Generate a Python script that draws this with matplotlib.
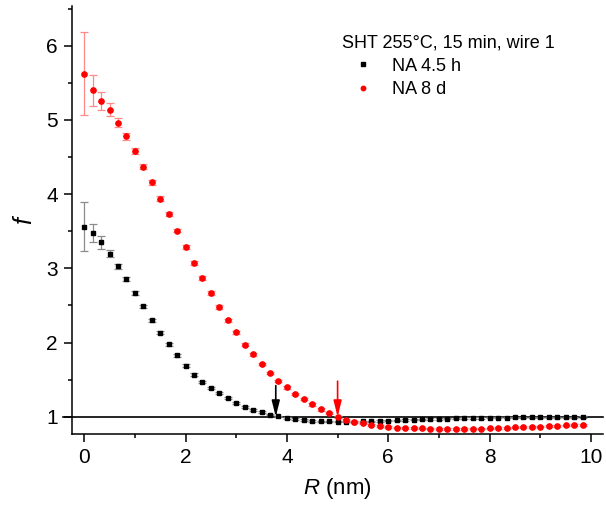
import matplotlib
matplotlib.use("Agg")
import matplotlib.pyplot as plt
from matplotlib.lines import Line2D
from matplotlib.ticker import MultipleLocator

plt.rcParams['font.family'] = ['Liberation Sans', 'DejaVu Sans']
plt.rcParams['mathtext.fontset'] = 'custom'
plt.rcParams['mathtext.rm'] = 'Liberation Sans'
plt.rcParams['mathtext.it'] = 'Liberation Sans:italic'

# radial distance R (nm), shared by both series
R = [0.0, 0.167, 0.333, 0.5, 0.667, 0.833, 1.0, 1.167, 1.333, 1.5,
     1.667, 1.833, 2.0, 2.167, 2.333, 2.5, 2.667, 2.833, 3.0, 3.167,
     3.333, 3.5, 3.667, 3.833, 4.0, 4.167, 4.333, 4.5, 4.667, 4.833,
     5.0, 5.167, 5.333, 5.5, 5.667, 5.833, 6.0, 6.167, 6.333, 6.5,
     6.667, 6.833, 7.0, 7.167, 7.333, 7.5, 7.667, 7.833, 8.0, 8.167,
     8.333, 8.5, 8.667, 8.833, 9.0, 9.167, 9.333, 9.5, 9.667, 9.833]

# NA 4.5 h
f_short = [3.56, 3.48, 3.35, 3.20, 3.03, 2.86, 2.67, 2.49, 2.30, 2.13,
           1.98, 1.83, 1.69, 1.57, 1.47, 1.39, 1.32, 1.25, 1.19, 1.135,
           1.095, 1.063, 1.03, 1.005, 0.987, 0.969, 0.955, 0.946, 0.94, 0.937,
           0.935, 0.934, 0.935, 0.937, 0.94, 0.944, 0.948, 0.952, 0.957, 0.961,
           0.965, 0.969, 0.973, 0.976, 0.979, 0.982, 0.984, 0.986, 0.988, 0.989,
           0.99, 0.991, 0.992, 0.992, 0.993, 0.993, 0.994, 0.994, 0.994, 0.995]
err_short = [0.33, 0.12, 0.083, 0.05, 0.035, 0.03, 0.025, 0.022, 0.02, 0.02,
             0.02, 0.018, 0.018, 0.017, 0.016, 0.015, 0.015, 0.014, 0.014, 0.013,
             0.013, 0.012, 0.012, 0.012, 0.011, 0.011, 0.011, 0.01, 0.01, 0.01,
             0.01, 0.01, 0.01, 0.01, 0.01, 0.01, 0.01, 0.01, 0.01, 0.01,
             0.01, 0.01, 0.01, 0.01, 0.01, 0.01, 0.01, 0.01, 0.01, 0.01,
             0.01, 0.01, 0.01, 0.01, 0.01, 0.01, 0.01, 0.01, 0.01, 0.01]

# NA 8 d
f_long = [5.62, 5.40, 5.26, 5.14, 4.96, 4.78, 4.58, 4.37, 4.16, 3.94,
          3.73, 3.51, 3.29, 3.075, 2.87, 2.67, 2.48, 2.30, 2.14, 1.97,
          1.84, 1.71, 1.59, 1.48, 1.395, 1.31, 1.24, 1.166, 1.10, 1.05,
          1.00, 0.96, 0.935, 0.91, 0.89, 0.873, 0.862, 0.855, 0.85, 0.846,
          0.843, 0.841, 0.84, 0.84, 0.84, 0.84, 0.841, 0.842, 0.845, 0.849,
          0.853, 0.857, 0.861, 0.865, 0.869, 0.873, 0.878, 0.883, 0.888, 0.893]
err_long = [0.56, 0.21, 0.12, 0.085, 0.06, 0.045, 0.04, 0.035, 0.03, 0.03,
            0.028, 0.026, 0.025, 0.024, 0.023, 0.022, 0.021, 0.02, 0.02, 0.019,
            0.018, 0.018, 0.017, 0.017, 0.016, 0.016, 0.015, 0.015, 0.015, 0.014,
            0.014, 0.014, 0.013, 0.013, 0.013, 0.012, 0.012, 0.012, 0.012, 0.012,
            0.011, 0.011, 0.011, 0.011, 0.011, 0.011, 0.011, 0.011, 0.011, 0.011,
            0.011, 0.011, 0.011, 0.011, 0.011, 0.011, 0.011, 0.011, 0.011, 0.011]

labels = ['NA 4.5 h', 'NA 8 d']
legend_title = 'SHT 255°C, 15 min, wire 1'

# crossing points marked with arrows: (R, arrow top)
arrow_short = (3.78, 1.42)
arrow_long = (5.0, 1.48)

fig = plt.figure(figsize=(6.06, 5.19), dpi=100)
ax = fig.add_axes([0.1183, 0.163, 0.877, 0.8254])

ax.errorbar(R, f_short, yerr=err_short, fmt='s', color='black', ms=3.3,
            ecolor='#8c8c8c', elinewidth=0.9, capsize=3, capthick=0.9, zorder=3)
ax.errorbar(R, f_long, yerr=err_long, fmt='o', color='red', ms=3.8,
            ecolor='#ff8a8a', elinewidth=0.9, capsize=3, capthick=0.9, zorder=3)

# reference line f = 1, runs a little past the left spine
ax.plot([-0.42, 10.24], [1, 1], color='black', lw=1.2, clip_on=False, zorder=2)

for (xa, ya), col in [(arrow_short, 'black'), (arrow_long, 'red')]:
    ax.annotate('', xy=(xa, 1.0), xytext=(xa, ya),
                arrowprops=dict(arrowstyle='-|>,head_length=0.8,head_width=0.2',
                                color=col, lw=1.2, mutation_scale=12,
                                shrinkA=0, shrinkB=0))

ax.set_xlim(-0.247, 10.24)
ax.set_ylim(0.763, 6.535)
ax.xaxis.set_major_locator(MultipleLocator(2))
ax.xaxis.set_minor_locator(MultipleLocator(1))
ax.yaxis.set_major_locator(MultipleLocator(1))
ax.yaxis.set_minor_locator(MultipleLocator(0.5))

for s in ['top', 'right']:
    ax.spines[s].set_visible(False)
for s in ['left', 'bottom']:
    ax.spines[s].set_linewidth(1.1)

ax.tick_params(which='major', direction='out', length=6, width=1.1, labelsize=15, pad=4)
ax.tick_params(which='minor', direction='out', length=3, width=1.1)

ax.set_xlabel(r'$\it{R}$ (nm)', fontsize=16, labelpad=6)
ax.set_ylabel('f', fontsize=18, style='italic', labelpad=7)

handles = [Line2D([], [], ls='none', marker='s', color='black', ms=3),
           Line2D([], [], ls='none', marker='o', color='red', ms=3.2)]
ax.legend(handles, labels, loc='upper left', bbox_to_anchor=(0.564, 0.934),
          bbox_transform=fig.transFigure, frameon=False, fontsize=13,
          title=legend_title, title_fontsize=13, alignment='left',
          handlelength=2.3, handletextpad=0.47, labelspacing=0.35,
          borderpad=0, borderaxespad=0)

fig.savefig('out.png', dpi=100)
